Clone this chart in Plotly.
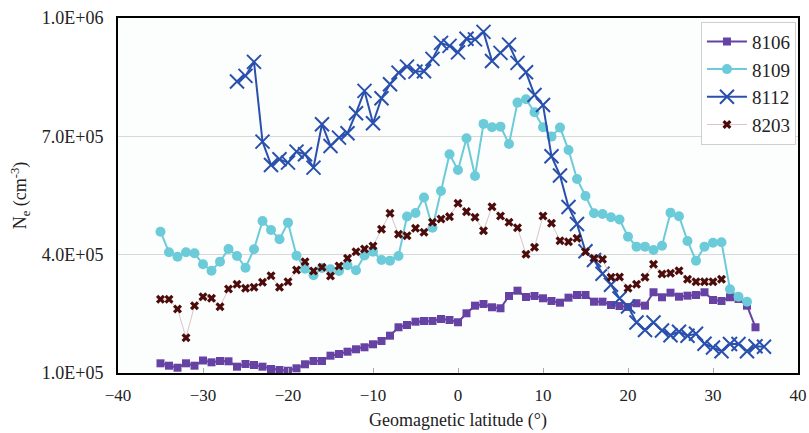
import plotly.graph_objects as go

lat_8106 = list(range(-35, 36))
ne_8106 = [124600, 118500, 113400, 124600, 118500, 131700, 127100, 130400, 129700, 116000,
           122800, 120300, 116000, 110100, 107600, 105800, 111900, 122100, 130400, 130400,
           143900, 148200, 154000, 160100, 165200, 172800, 181200, 194600, 215900, 221700,
           230100, 231900, 231900, 236900, 234400, 228600, 251400, 270700, 275000, 266600,
           264100, 295300, 308700, 292700, 295300, 289400, 282600, 278300, 291000, 297800,
           297800, 280800, 280800, 272400, 269900, 267400, 276800, 270700, 304700, 292000,
           303600, 293500, 296000, 297800, 304700, 285100, 282600, 292000, 287700, 270700,
           215900]

lat_8109 = list(range(-35, 35))
ne_8109 = [458300, 406100, 394900, 406100, 403600, 375700, 359400, 382300, 414500, 396700,
           367000, 413700, 485500, 462600, 439100, 481200, 397500, 364500, 347800, 366300,
           363000, 358700, 373100, 360400, 398000, 407600, 386600, 384800, 396700, 496900,
           505800, 545100, 468500, 561600, 654600, 614800, 695200, 599600, 731500, 723100,
           724600, 680700, 785500, 794100, 761100, 723100, 699300, 722100, 665500, 592000,
           548900, 505000, 503200, 494800, 489300, 445700, 420300, 420300, 411900, 422800,
           506500, 497400, 434800, 384800, 420300, 430400, 431500, 312300, 293500, 280800]

lat_8112 = list(range(-26, 37))
ne_8112 = [839200, 853200, 888700, 686600, 627500, 641900, 633300, 661200, 654600, 620700,
           730700, 675700, 696700, 707900, 758600, 815200, 733200, 796600, 832100, 861600,
           876800, 864100, 865100, 896300, 936900, 929300, 912800, 947500, 945800, 964800,
           891200, 911500, 932600, 886200, 862600, 805000, 779600, 649600, 600900, 521000,
           477900, 408600, 386600, 351800, 323900, 288900, 268600, 228100, 209000, 228100,
           207800, 195600, 204700, 194300, 199400, 174300, 164700, 155000, 173500, 173500,
           155300, 167700, 166700]

lat_8203 = list(range(-35, 32))
ne_8203 = [286900, 286900, 262300, 189500, 270700, 293500, 289400, 268100, 313000, 324900,
           314800, 317300, 330000, 346800, 317300, 331500, 361200, 382300, 358700, 368100,
           346000, 371400, 390900, 407600, 414500, 422100, 464400, 505000, 451700, 448200,
           467000, 456800, 482200, 490500, 496400, 530400, 509100, 494800, 460900, 521700,
           498200, 482200, 468500, 401000, 418800, 498200, 479600, 435500, 433000, 441600,
           407600, 390900, 388300, 342700, 343500, 314800, 324900, 342700, 375700, 351100,
           352800, 359400, 337600, 331500, 331500, 331500, 337600]

y_tickvals = [100000, 400000, 700000, 1000000]
y_ticktext = ["1.0E+05", "4.0E+05", "7.0E+05", "1.0E+06"]

FONT = "Liberation Serif"

fig = go.Figure()
fig.add_trace(go.Scatter(x=lat_8106, y=ne_8106, name="8106", mode="lines+markers",
                         line=dict(color="#6542a3", width=2),
                         marker=dict(symbol="square", size=8, color="#6542a3")))
fig.add_trace(go.Scatter(x=lat_8109, y=ne_8109, name="8109", mode="lines+markers",
                         line=dict(color="#6ccbd9", width=2),
                         marker=dict(symbol="circle", size=10, color="#6ccbd9")))
fig.add_trace(go.Scatter(x=lat_8112, y=ne_8112, name="8112", mode="lines+markers",
                         line=dict(color="#2a50ad", width=2),
                         marker=dict(symbol="x-thin", size=14,
                                     line=dict(color="#2a50ad", width=2))))
fig.add_trace(go.Scatter(x=lat_8203, y=ne_8203, name="8203", mode="lines+markers",
                         line=dict(color="#d9c6c6", width=1),
                         marker=dict(symbol="x", size=8, color="#4d0c0c")))

fig.update_layout(
    width=809, height=433,
    margin=dict(l=118, r=11, t=18, b=60),
    paper_bgcolor="white",
    plot_bgcolor="#fcfdfd",
    font=dict(family=FONT, color="#222222", size=17),
    showlegend=True,
    legend=dict(x=0.997, y=0.99, xanchor="right", yanchor="top",
                bgcolor="white", bordercolor="#cfcfcf", borderwidth=1,
                font=dict(family=FONT, size=19, color="#222222"),
                itemwidth=40, tracegroupgap=0),
    xaxis=dict(range=[-40, 40], dtick=10, tick0=-40, showgrid=False, zeroline=False,
               showline=True, linecolor="black", linewidth=2, mirror=True,
               ticks="inside", ticklen=5, tickcolor="#aaaaaa",
               ticklabelstandoff=6, automargin=False,
               tickfont=dict(family=FONT, size=17),
               title=dict(text="Geomagnetic latitude (°)", font=dict(family=FONT, size=18),
                          standoff=9)),
    yaxis=dict(range=[100000, 1000000], tickvals=y_tickvals, ticktext=y_ticktext,
               showgrid=True, gridcolor="#d8d8d8", gridwidth=1, zeroline=False,
               showline=True, linecolor="black", linewidth=2, mirror=True,
               ticks="", ticklabelstandoff=9, automargin=False,
               tickfont=dict(family=FONT, size=18),
               title=dict(text="N<sub>e</sub> (cm<sup>-3</sup>)", font=dict(family=FONT, size=18),
                          standoff=10)),
)

fig.write_html("out.html")
